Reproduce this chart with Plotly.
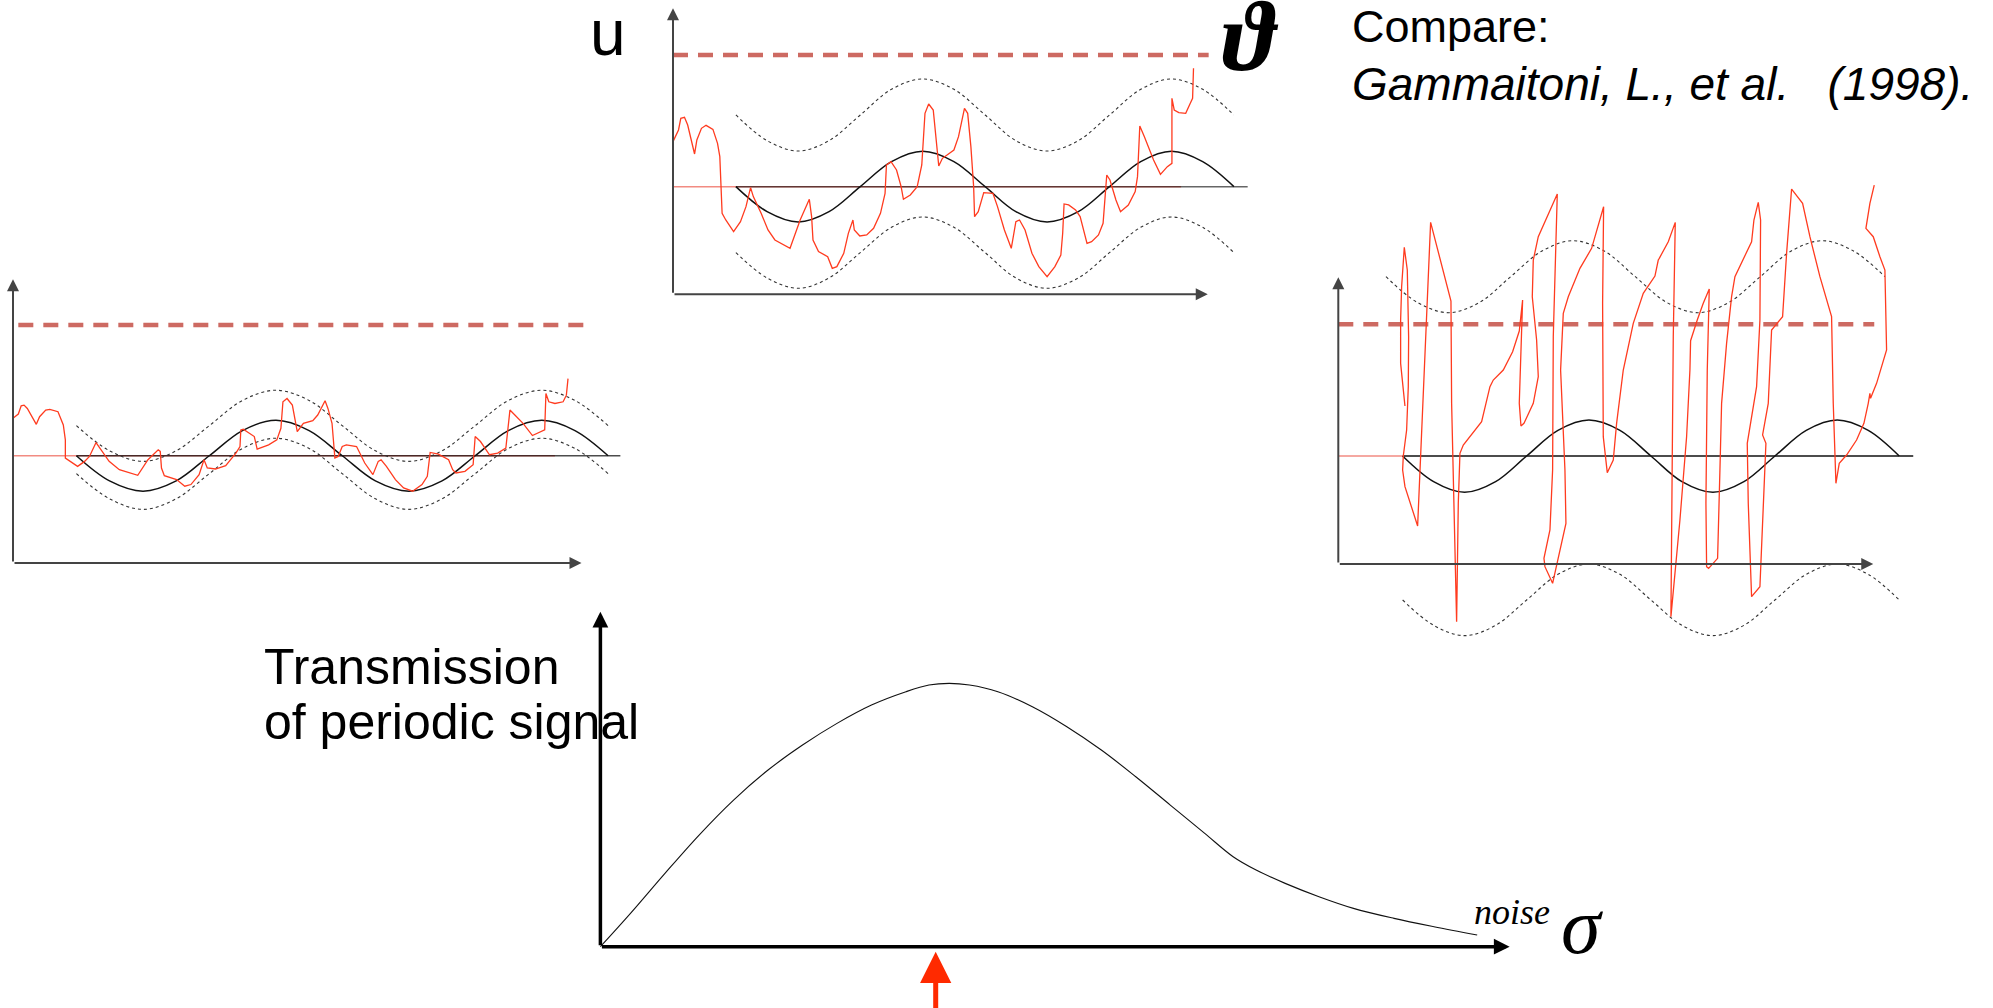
import plotly.graph_objects as go

W, H = 1993, 1008

# ---------------- data ----------------
# Left panel: weak noise, membrane potential u(t)
LEFT_NOISE = [(0.0, 43.7), (1.3, 45.0), (2.0, 47.5), (2.7, 47.7), (3.5, 46.7), (5.7, 41.9), (6.5, 44.2),
              (8.0, 46.2), (9.0, 46.4), (11.0, 45.7), (12.3, 41.7), (12.8, 37.2), (12.8, 31.7), (15.8, 29.2),
              (17.5, 30.7), (18.7, 32.2), (20.3, 36.4), (21.5, 34.2), (23.5, 30.7), (26.0, 28.2), (30.5, 26.5),
              (33.0, 31.2), (35.5, 34.2), (36.0, 33.7), (36.3, 28.7), (37.0, 26.4), (40.0, 25.2), (42.0, 23.2),
              (43.5, 23.7), (45.5, 26.7), (46.7, 31.2), (47.5, 28.7), (49.5, 28.4), (52.0, 29.4), (54.5, 33.2),
              (55.5, 35.2), (55.7, 40.2), (56.3, 40.4), (59.0, 38.2), (59.7, 34.4), (62.5, 35.7), (64.5, 37.2),
              (65.5, 40.7), (66.0, 48.7), (67.0, 49.7), (68.3, 47.7), (69.5, 39.7), (71.0, 42.2), (73.3, 43.0),
              (74.5, 44.7), (76.0, 48.7), (76.3, 49.0), (77.0, 46.7), (78.0, 42.2), (78.7, 31.7), (79.5, 32.2),
              (80.5, 35.2), (81.5, 35.7), (84.0, 35.2), (86.0, 30.2), (88.0, 26.7), (89.3, 30.7), (90.0, 31.2),
              (91.3, 29.2), (93.5, 25.2), (95.5, 22.7), (97.7, 21.7), (100.0, 23.7), (101.3, 26.2), (102.0, 33.4),
              (104.0, 32.9), (106.5, 31.2), (107.5, 28.2), (108.3, 27.2), (110.5, 27.7), (112.5, 29.7),
              (113.0, 38.2), (114.3, 36.7), (116.5, 32.7), (118.5, 33.2), (120.5, 34.7), (121.5, 46.2),
              (122.7, 44.7), (124.7, 42.2), (127.0, 38.5), (130.0, 40.2), (130.3, 51.2), (131.0, 48.7),
              (132.5, 48.2), (134.5, 48.7), (135.3, 50.7), (135.7, 55.7)]
left_signal_t = [15.5, 23.6, 31.8, 39.9, 48.0, 56.1, 64.3, 72.4, 80.5, 88.6, 96.8, 104.9, 113.0, 121.1, 129.3, 137.4, 145.5]
left_signal_u = [32.4, 24.8, 21.7, 24.8, 32.4, 40.0, 43.1, 40.0, 32.4, 24.8, 21.7, 24.8, 32.4, 40.0, 43.1, 40.0, 32.4]
left_upper_u = [41.5, 33.9, 30.7, 33.9, 41.5, 49.1, 52.2, 49.1, 41.5, 33.9, 30.7, 33.9, 41.5, 49.1, 52.2, 49.1, 41.5]
left_lower_u = [27.0, 19.4, 16.2, 19.4, 27.0, 34.6, 37.7, 34.6, 27.0, 19.4, 16.2, 19.4, 27.0, 34.6, 37.7, 34.6, 27.0]
left_rest, left_threshold = 32.4, 71.9
left_rest_pink = [0.0, 132.5]
left_rest_dark = [15.5, 148.5]
left_threshold_t = [1.3, 139.5]
left_axis_tip = (139.0, 85.7)

# Top panel: optimal noise
TOP_NOISE = [(0.0, 45.8), (1.2, 49.3), (1.7, 52.8), (2.5, 53.1), (3.2, 50.8), (4.7, 42.1), (5.2, 46.3),
             (6.2, 49.8), (7.2, 50.7), (8.7, 49.5), (9.7, 45.3), (10.2, 41.3), (10.7, 24.3), (11.5, 22.3),
             (13.2, 18.8), (14.7, 21.8), (15.9, 26.3), (16.5, 30.3), (16.9, 32.0), (17.5, 29.3), (19.2, 24.3),
             (20.7, 19.3), (22.2, 16.3), (25.5, 13.8), (27.7, 22.3), (29.7, 28.5), (30.2, 23.3), (30.5, 16.3),
             (31.7, 12.8), (33.7, 11.3), (34.7, 7.8), (35.7, 8.3), (37.2, 12.3), (38.2, 18.3), (39.2, 22.3),
             (39.5, 19.3), (40.7, 17.5), (42.2, 17.8), (43.7, 19.8), (45.2, 24.3), (46.2, 30.3), (46.5, 38.8),
             (47.5, 39.8), (48.7, 37.3), (49.7, 32.3), (50.2, 28.5), (51.7, 29.8), (53.2, 32.3), (54.2, 38.8),
             (54.9, 54.3), (55.7, 57.1), (56.7, 55.3), (57.2, 48.3), (57.9, 38.5), (58.7, 40.8), (59.7, 41.8),
             (61.2, 43.3), (62.2, 47.3), (63.5, 55.8), (64.2, 54.3), (64.9, 44.3), (65.5, 32.3), (65.7, 23.3),
             (66.5, 24.8), (67.2, 28.3), (67.7, 30.5), (69.7, 30.3), (70.7, 26.3), (72.2, 19.3), (73.7, 13.8),
             (74.7, 21.8), (75.5, 22.3), (76.7, 19.3), (78.2, 12.3), (79.7, 8.3), (81.5, 5.3), (83.2, 8.3),
             (84.5, 11.8), (84.9, 18.3), (85.2, 27.1), (86.2, 26.8), (87.7, 25.3), (88.7, 23.3), (89.7, 18.3),
             (90.2, 15.3), (91.2, 15.8), (92.7, 17.8), (93.7, 21.3), (94.2, 30.3), (94.5, 35.8), (95.2, 34.3),
             (96.5, 28.3), (97.5, 24.8), (99.2, 26.8), (100.7, 30.8), (101.2, 35.3), (101.7, 50.5),
             (102.7, 47.3), (104.7, 40.3), (106.2, 36.0), (107.7, 38.3), (108.7, 39.3), (108.7, 58.8),
             (109.2, 55.3), (110.2, 54.5), (111.7, 54.3), (112.7, 57.3), (113.2, 58.8), (113.4, 67.8)]
top_signal_t = [13.7, 20.5, 27.3, 34.0, 40.8, 47.6, 54.4, 61.2, 68.0, 74.7, 81.5, 88.3, 95.1, 101.9, 108.6, 115.4, 122.2]
top_signal_u = [32.3, 24.8, 21.7, 24.8, 32.3, 39.8, 42.9, 39.8, 32.3, 24.8, 21.7, 24.8, 32.3, 39.8, 42.9, 39.8, 32.3]
top_upper_u = [53.8, 46.1, 43.0, 46.1, 53.8, 61.5, 64.6, 61.5, 53.8, 46.1, 43.0, 46.1, 53.8, 61.5, 64.6, 61.5, 53.8]
top_lower_u = [12.5, 4.9, 1.8, 4.9, 12.5, 20.1, 23.2, 20.1, 12.5, 4.9, 1.8, 4.9, 12.5, 20.1, 23.2, 20.1, 12.5]
top_rest, top_threshold = 32.3, 71.8
top_rest_pink = [0.0, 110.7]
top_rest_dark = [13.7, 125.2]
top_threshold_t = [0.0, 116.7]
top_axis_tip = (116.5, 85.8)

# Right panel: strong noise
RIGHT_NOISE = [(20.0, 47.4), (18.7, 60.2), (18.7, 73.2), (19.0, 83.2), (19.8, 95.0), (20.7, 88.2),
               (21.1, 68.2), (21.0, 53.2), (20.5, 40.2), (19.5, 32.4), (19.3, 28.2), (20.0, 23.2),
               (23.8, 11.4), (27.7, 102.5), (33.8, 78.9), (34.0, 48.2), (35.5, -17.3), (36.0, 18.2),
               (36.5, 33.2), (37.5, 35.7), (43.0, 42.7), (45.5, 53.2), (46.5, 55.2), (49.5, 58.2),
               (52.3, 63.7), (54.3, 69.9), (55.3, 79.2), (55.0, 70.2), (54.3, 48.2), (54.8, 41.4),
               (55.7, 42.2), (58.5, 48.2), (60.0, 56.2), (59.5, 67.2), (58.2, 80.2), (58.5, 91.2),
               (60.0, 98.2), (65.7, 111.0), (64.5, 68.2), (64.3, 28.2), (63.5, 10.2), (61.7, 1.7),
               (62.0, -0.8), (64.3, -5.8), (68.3, 12.2), (68.0, 28.2), (66.7, 58.2), (67.5, 75.2),
               (69.0, 80.2), (72.5, 88.7), (76.0, 94.7), (79.6, 107.2), (79.3, 78.2), (79.5, 38.2),
               (80.7, 27.4), (82.5, 31.2), (83.5, 42.2), (85.5, 58.2), (88.5, 72.2), (91.5, 81.2),
               (95.0, 86.4), (96.0, 91.2), (96.3, 91.7), (99.0, 96.7), (101.1, 102.5), (100.5, 68.2),
               (100.0, 18.2), (99.8, -15.8), (102.5, 13.2), (104.5, 38.2), (105.5, 58.2), (105.7, 67.0),
               (107.7, 73.2), (109.5, 78.2), (111.3, 82.5), (110.7, 58.2), (110.3, 18.2), (110.5, -0.8),
               (111.1, -1.3), (113.8, 1.7), (114.5, 28.2), (115.0, 48.2), (116.5, 66.2), (118.0, 80.2),
               (119.0, 86.2), (121.5, 91.2), (124.0, 96.7), (124.7, 103.2), (126.0, 108.5), (126.7, 103.2),
               (126.5, 73.2), (125.5, 53.2), (122.7, 36.2), (123.0, 18.2), (124.0, -9.8), (126.5, -6.8),
               (127.5, 18.2), (128.3, 36.2), (127.3, 38.7), (129.0, 48.2), (130.0, 70.2), (133.3, 74.2),
               (134.5, 93.2), (136.0, 112.5), (139.3, 108.2), (141.5, 98.2), (144.5, 86.2), (148.0, 74.2),
               (148.5, 48.2), (149.3, 24.2), (150.3, 30.2), (152.5, 32.7), (155.5, 37.2), (157.7, 42.2),
               (159.0, 48.2), (159.5, 51.2), (159.7, 49.7), (161.5, 54.2), (164.5, 64.2), (164.0, 88.2),
               (162.5, 92.2), (160.5, 98.2), (158.3, 100.7), (159.5, 108.2), (160.8, 113.7)]
right_signal_t = [19.3, 28.6, 37.9, 47.2, 56.5, 65.9, 75.2, 84.5, 93.8, 103.1, 112.4, 121.7, 131.0, 140.4, 149.7, 159.0, 168.3]
right_signal_u = [32.4, 24.7, 21.5, 24.7, 32.4, 40.1, 43.2, 40.1, 32.4, 24.7, 21.5, 24.7, 32.4, 40.1, 43.2, 40.1, 32.4]
right_upper_t = [14.3, 23.7, 33.0, 42.4, 51.7, 61.1, 70.4, 79.8, 89.1, 98.5, 107.9, 117.2, 126.6, 135.9, 145.3, 154.6, 164.0]
right_upper_u = [86.2, 78.5, 75.4, 78.5, 86.2, 93.9, 97.0, 93.9, 86.2, 78.5, 75.4, 78.5, 86.2, 93.9, 97.0, 93.9, 86.2]
right_lower_u = [-10.8, -18.4, -21.5, -18.4, -10.8, -3.1, 0.0, -3.1, -10.8, -18.4, -21.5, -18.4, -10.8, -3.1, 0.0, -3.1, -10.8]
right_rest, right_threshold = 32.4, 71.9
right_rest_pink = [0.0, 19.3]
right_rest_dark = [19.3, 172.5]
right_threshold_t = [0.0, 160.8]
right_axis_tip = (160.5, 86.0)

# Bottom panel: transmission vs noise amplitude sigma
noise_sigma = [0.0, 4.45, 9.55, 14.6, 19.7, 24.8, 29.9, 35.0, 40.1, 45.2, 48.6, 51.6, 54.6, 58.8, 63.9,
               69.0, 74.1, 79.2, 84.3, 89.4, 93.6, 97.0, 101.3, 106.3, 111.4, 117.4, 123.3, 129.7]
transmission = [0.0, 10.0, 22.0, 33.5, 44.0, 53.0, 60.5, 67.0, 72.5, 76.5, 78.5, 79.0, 78.5, 76.5, 72.0,
                66.0, 59.0, 51.0, 42.5, 34.0, 27.0, 23.0, 19.0, 15.0, 11.5, 8.5, 6.0, 3.5]
optimal_sigma = 49.6
bottom_axis_tip = (134.5, 100.5)

# ---------------- layout geometry ----------------
# origin (px), pixels per data unit (x, y), box (x0, y0, x1, y1) in px
PANELS = {
    'left':   dict(xa='x',  ya='y',  origin=(13.0, 563.0),   ppu=(4.09, 3.31),   box=(0, 250, 640, 640)),
    'top':    dict(xa='x2', ya='y2', origin=(673.0, 294.3),  ppu=(4.59, 3.333),  box=(600, 0, 1260, 320)),
    'right':  dict(xa='x3', ya='y3', origin=(1338.3, 564.0), ppu=(3.333, 3.333), box=(1320, 150, 1993, 660)),
    'bottom': dict(xa='x4', ya='y4', origin=(600.4, 946.7),  ppu=(6.76, 3.333),  box=(560, 590, 1700, 1008)),
}

RED = '#ff3b1f'
THR = 'rgb(205,106,98)'
PINK = '#f28b82'

fig = go.Figure()
layout_axes = {}
for name, p in PANELS.items():
    ox, oy = p['origin']
    px, py = p['ppu']
    x0, y0, x1, y1 = p['box']
    xk = 'xaxis' + p['xa'][1:]
    yk = 'yaxis' + p['ya'][1:]
    layout_axes[xk] = dict(domain=[x0 / W, x1 / W], range=[(x0 - ox) / px, (x1 - ox) / px],
                           visible=False, fixedrange=True, anchor=p['ya'])
    layout_axes[yk] = dict(domain=[1 - y1 / H, 1 - y0 / H], range=[(oy - y1) / py, (oy - y0) / py],
                           visible=False, fixedrange=True, anchor=p['xa'])


def add(panel, x, y, color, width, dash=None, shape='linear'):
    p = PANELS[panel]
    fig.add_trace(go.Scatter(x=list(x), y=list(y), mode='lines', xaxis=p['xa'], yaxis=p['ya'],
                             line=dict(color=color, width=width, dash=dash, shape=shape, smoothing=1.0),
                             hoverinfo='skip', showlegend=False))


def axis_arrows(panel, tip, color='#444', width=2, size=1.2):
    p = PANELS[panel]
    for (xt, yt) in [(0, tip[1]), (tip[0], 0)]:
        fig.add_annotation(x=xt, y=yt, ax=0, ay=0, xref=p['xa'], yref=p['ya'], axref=p['xa'], ayref=p['ya'],
                           text='', showarrow=True, arrowhead=2, arrowsize=size, arrowwidth=width,
                           arrowcolor=color, standoff=0)


def signal_panel(panel, noise, sig_t, sig_u, up_t, up_u, lo_t, lo_u, rest, thr, pink, dark, thr_t, tip,
                 dark_color):
    add(panel, pink, [rest, rest], PINK, 1.5)
    add(panel, dark, [rest, rest], dark_color, 1.5)
    add(panel, thr_t, [thr, thr], THR, 4.5, dash='15px,10px')
    add(panel, up_t, up_u, '#333', 1.1, dash='3px,3px', shape='spline')
    add(panel, lo_t, lo_u, '#333', 1.1, dash='3px,3px', shape='spline')
    add(panel, sig_t, sig_u, '#111', 1.5, shape='spline')
    nt, nu = zip(*noise)
    add(panel, nt, nu, RED, 1.3)
    axis_arrows(panel, tip)


signal_panel('left', LEFT_NOISE, left_signal_t, left_signal_u, left_signal_t, left_upper_u,
             left_signal_t, left_lower_u, left_rest, left_threshold, left_rest_pink, left_rest_dark,
             left_threshold_t, left_axis_tip, 'rgba(0,0,0,0.7)')
signal_panel('top', TOP_NOISE, top_signal_t, top_signal_u, top_signal_t, top_upper_u,
             top_signal_t, top_lower_u, top_rest, top_threshold, top_rest_pink, top_rest_dark,
             top_threshold_t, top_axis_tip, 'rgba(0,0,0,0.6)')
signal_panel('right', RIGHT_NOISE, right_signal_t, right_signal_u, right_upper_t, right_upper_u,
             right_signal_t, right_lower_u, right_rest, right_threshold, right_rest_pink, right_rest_dark,
             right_threshold_t, right_axis_tip, '#111')

# bottom panel
add('bottom', noise_sigma, transmission, '#111', 1.1, shape='spline')
axis_arrows('bottom', bottom_axis_tip, color='#000', width=3.5, size=0.9)
pb = PANELS['bottom']
fig.add_annotation(x=optimal_sigma, y=-1.5, ax=optimal_sigma, ay=-20, xref=pb['xa'], yref=pb['ya'],
                   axref=pb['xa'], ayref=pb['ya'], text='', showarrow=True, arrowhead=2, arrowsize=1.25,
                   arrowwidth=5, arrowcolor='#ff2a00', standoff=0)


# ---------------- text ----------------
def label(text, x_px, baseline_px, size, family='Liberation Sans, Arial, sans-serif', style='normal',
          weight='normal', k=0.3465, xanchor='left'):
    fig.add_annotation(x=x_px / W, y=1 - (baseline_px - k * size) / H, xref='paper', yref='paper',
                       text=text, showarrow=False, xanchor=xanchor, yanchor='middle',
                       font=dict(family=family, size=size, color='#000', style=style, weight=weight),
                       borderpad=0)


label('u', 589, 55, 64)
label('\u03d1', 1250, 70, 100, family='Liberation Serif, DejaVu Serif, serif', style='italic', weight='bold',
      k=0.3375, xanchor='center')
label('Compare:', 1351, 42, 45)
label('Gammaitoni, L., et al.&nbsp;&nbsp; (1998).', 1351, 99.5, 46, style='italic')
label('Transmission', 263, 684, 50)
label('of periodic signal', 263, 739, 50)
label('noise', 1473, 924, 36, family='Liberation Serif, Times New Roman, serif', style='italic', k=0.3375)
label('\u03c3', 1560, 953, 80, family='Liberation Serif, Times New Roman, serif', style='italic', k=0.3375)

fig.update_layout(width=W, height=H, autosize=False, margin=dict(l=0, r=0, t=0, b=0),
                  paper_bgcolor='white', plot_bgcolor='rgba(0,0,0,0)', showlegend=False,
                  **layout_axes)

fig.write_html('out.html', config={'displayModeBar': False, 'staticPlot': True},
               post_script="document.body.style.margin='0';document.body.style.overflow='hidden';")
